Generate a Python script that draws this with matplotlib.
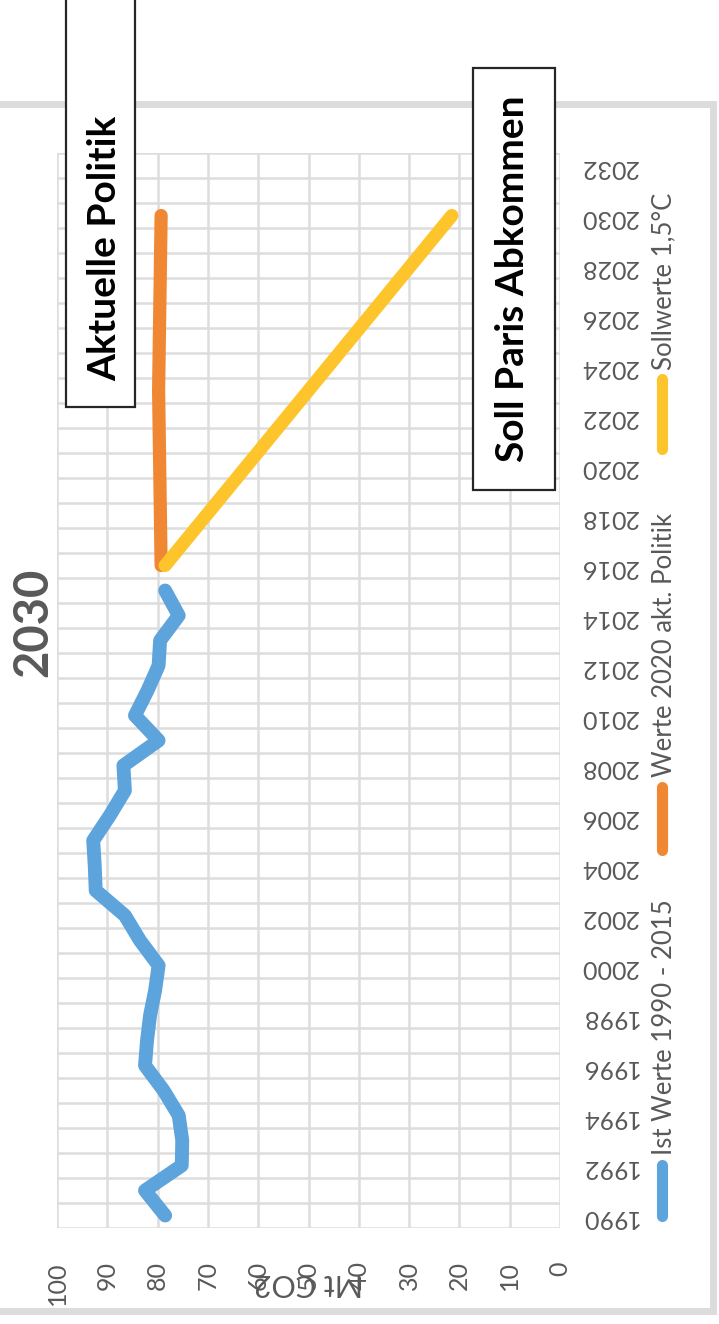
import numpy as np
import matplotlib
matplotlib.use("Agg")
import matplotlib.pyplot as plt
from matplotlib.patches import Rectangle
from matplotlib.lines import Line2D

plt.rcParams['font.family'] = ['Lato', 'DejaVu Sans']

# emissions in Mt CO2
ist_years = list(range(1990, 2016))
ist_values = [78.5, 82.5, 75.2, 75.1, 75.8, 78.8, 82.5, 82.1, 81.5, 80.5,
              79.8, 83.5, 86.5, 92.3, 92.5, 92.8, 89.5, 86.5, 86.8, 79.8,
              84.5, 82.0, 79.8, 79.5, 75.8, 78.5]
akt_years = [2016, 2023, 2030]
akt_values = [79.3, 79.8, 79.3]
soll_years = [2016, 2030]
soll_values = [78.5, 21.5]

year_ticks = list(range(1990, 2033, 2))
value_ticks = list(range(0, 101, 10))

label_ist = "Ist Werte 1990 - 2015"
label_akt = "Werte 2020 akt. Politik"
label_soll = "Sollwerte 1,5°C"

c_ist = "#5DA3DC"
c_akt = "#EF8733"
c_soll = "#FDC52B"
grey = "#595959"

W, H = 719, 1324
fig = plt.figure(figsize=(W / 100, H / 100), dpi=100)


def fx(px):
    return px / W


def fy(py):
    return 1 - py / H


# chart frame
fig.add_artist(Rectangle((fx(-20), fy(1311)), fx(733), 1207 / H,
                         transform=fig.transFigure, facecolor="white",
                         edgecolor="#dcdcdc", lw=5, zorder=0))

# turned chart: values run right to left, years bottom to top
ax = fig.add_axes([fx(57), fy(1228), 503 / W, 1075 / H])
ax.set_facecolor("none")
ax.set_xlim(100, 0)
ax.set_ylim(1989.5, 2032.5)

ax.set_xticks(value_ticks)
ax.set_yticks(year_ticks)
ax.set_yticks(np.arange(1989.5, 2033, 1), minor=True)
ax.grid(axis="x", which="major", color="#dddddd", lw=1.8, zorder=0)
ax.grid(axis="y", which="minor", color="#dddddd", lw=1.8, zorder=0)
for s in ax.spines.values():
    s.set_visible(False)

ax.yaxis.tick_right()
ax.tick_params(axis="both", which="both", length=0)
ax.tick_params(axis="y", which="major", pad=14.4, labelsize=18,
               labelcolor=grey, labelrotation=180)
ax.tick_params(axis="x", which="major", pad=24, labelsize=18,
               labelcolor=grey, labelrotation=90)

ax.set_xlabel("Mt CO2", rotation=180, fontsize=22, color=grey)
ax.xaxis.set_label_coords(0.5, -(1283 - 1228) / 1075)
ax.xaxis.label.set_va("center")

ax.plot(ist_values, ist_years, color=c_ist, lw=10, solid_capstyle="round",
        solid_joinstyle="round", zorder=3)
ax.plot(akt_values, akt_years, color=c_akt, lw=9.5, solid_capstyle="round",
        solid_joinstyle="round", zorder=3)
ax.plot(soll_values, soll_years, color=c_soll, lw=9.5, solid_capstyle="round",
        solid_joinstyle="round", zorder=4)

# title
fig.text(fx(33), fy(622), "2030", rotation=90, ha="center", va="center",
         fontsize=34, fontweight="bold", color=grey)

# legend, written upwards along the right side
legend = [(label_ist, c_ist, 1216, 1165, 1155),
          (label_akt, c_akt, 850, 787, 777),
          (label_soll, c_soll, 449, 379, 370)]
for text, col, y0, y1, yt in legend:
    fig.add_artist(Line2D([fx(662), fx(662)], [fy(y0), fy(y1)], color=col,
                          lw=8, solid_capstyle="round",
                          transform=fig.transFigure))
    fig.text(fx(664), fy(yt), text, rotation=90, ha="center", va="bottom",
             fontsize=18.5, color=grey)

# annotation boxes
fig.add_artist(Rectangle((fx(66), fy(407)), 69 / W, 420 / H,
                         transform=fig.transFigure, facecolor="white",
                         edgecolor="#262626", lw=1.6, zorder=5))
fig.text(fx(105), fy(248), "Aktuelle Politik", rotation=90, ha="center",
         va="center", fontsize=28, fontweight="bold", color="black", zorder=6)

fig.add_artist(Rectangle((fx(473), fy(490)), 82 / W, 422 / H,
                         transform=fig.transFigure, facecolor="white",
                         edgecolor="#262626", lw=1.6, zorder=5))
fig.text(fx(513), fy(279), "Soll Paris Abkommen", rotation=90, ha="center",
         va="center", fontsize=28, fontweight="bold", color="black", zorder=6)

fig.savefig("out.png", dpi=100)
